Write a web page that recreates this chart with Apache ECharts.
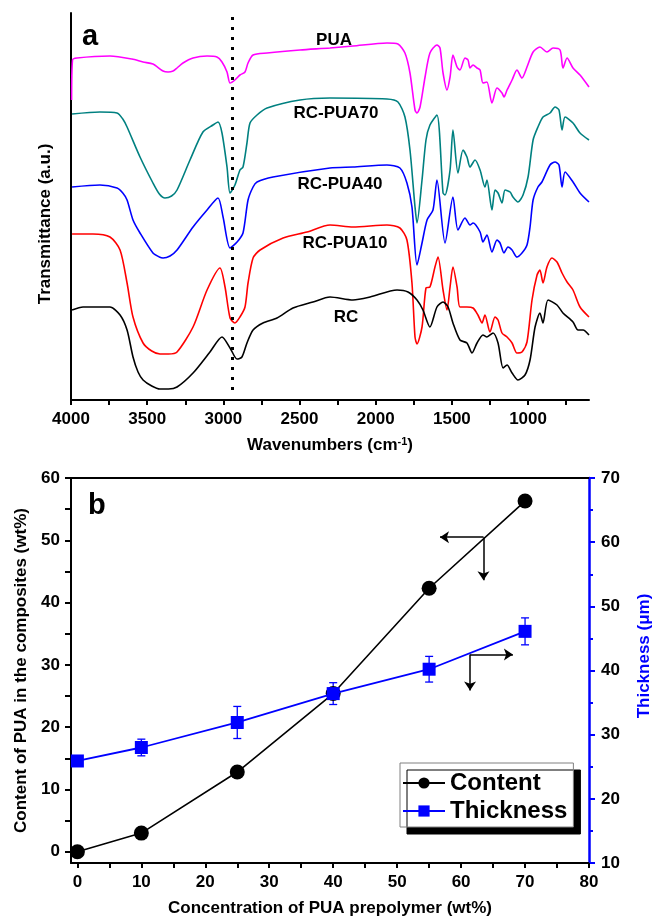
<!DOCTYPE html>
<html>
<head>
<meta charset="utf-8">
<script src="https://cdn.jsdelivr.net/npm/echarts@6/dist/echarts.min.js"></script>
<style>
  html, body { margin: 0; padding: 0; background: #fff; }
  #main { width: 656px; height: 921px; }
</style>
</head>
<body>
<div id="main"></div>
<script>
// (a) FTIR spectra, wavenumber (cm-1) vs transmittance (a.u., offset curves)
var puaWn = [3996, 3990, 3961, 3744, 3600, 3527, 3462, 3396, 3363, 3330, 3304, 3265, 3199, 3107, 3042, 3009, 2976, 2956, 2924, 2891, 2858, 2838, 2805, 2713, 2497, 2300, 2149, 1926, 1854, 1808, 1775, 1742, 1729, 1709, 1676, 1644, 1598, 1578, 1558, 1532, 1512, 1493, 1466, 1447, 1414, 1394, 1381, 1361, 1335, 1315, 1296, 1270, 1237, 1204, 1171, 1158, 1138, 1105, 1073, 1040, 1007, 967, 922, 876, 836, 790, 771, 744, 705, 659, 600];
var puaT = [300, 340, 342, 344, 341, 338, 336, 329, 328, 329, 332, 337, 342, 344, 343, 338, 328, 317, 320, 325, 328, 337, 345, 347, 350, 352, 354, 357, 356, 347, 327, 290, 287, 293, 323, 347, 355, 352, 327, 310, 323, 345, 333, 330, 342, 340, 332, 335, 332, 330, 317, 318, 297, 312, 307, 303, 310, 320, 330, 322, 333, 348, 353, 348, 352, 350, 332, 342, 332, 325, 313];

var pua70Wn = [3993, 3810, 3698, 3660, 3632, 3547, 3462, 3420, 3383, 3340, 3304, 3219, 3134, 3068, 3035, 3009, 2976, 2956, 2924, 2891, 2871, 2845, 2825, 2779, 2713, 2497, 2300, 1926, 1854, 1808, 1775, 1742, 1729, 1696, 1670, 1644, 1598, 1558, 1545, 1512, 1493, 1460, 1427, 1401, 1381, 1348, 1315, 1283, 1270, 1237, 1217, 1197, 1171, 1151, 1118, 1099, 1066, 1033, 1000, 967, 935, 902, 856, 823, 797, 777, 757, 705, 659, 600];
var pua70T = [286, 288, 287, 281, 273, 243, 217, 206, 202, 204, 210, 240, 268, 275, 278, 267, 233, 207, 215, 230, 233, 257, 277, 285, 292, 300, 302, 301, 298, 283, 250, 193, 177, 220, 260, 275, 285, 207, 205, 230, 270, 227, 250, 243, 233, 240, 230, 213, 220, 190, 210, 207, 197, 210, 208, 203, 198, 205, 223, 260, 273, 283, 287, 293, 290, 270, 283, 277, 267, 260];

var pua40Wn = [3993, 3810, 3698, 3660, 3632, 3593, 3547, 3462, 3420, 3396, 3350, 3304, 3199, 3107, 3035, 3002, 2956, 2910, 2871, 2838, 2805, 2779, 2674, 2300, 2149, 1926, 1841, 1795, 1762, 1729, 1696, 1663, 1624, 1598, 1545, 1493, 1460, 1414, 1381, 1361, 1315, 1296, 1270, 1237, 1204, 1184, 1158, 1132, 1105, 1073, 1040, 1007, 987, 967, 935, 909, 856, 823, 797, 777, 757, 705, 659, 600];
var pua40T = [213, 215, 212, 207, 200, 180, 167, 147, 143, 142, 144, 150, 173, 190, 202, 183, 152, 158, 167, 200, 213, 218, 223, 232, 233, 235, 232, 217, 193, 135, 157, 180, 190, 220, 157, 203, 170, 182, 175, 177, 168, 158, 165, 148, 160, 157, 147, 153, 150, 143, 147, 155, 173, 200, 213, 218, 235, 238, 235, 213, 228, 218, 207, 198];

var pua10Wn = [3993, 3856, 3744, 3678, 3632, 3593, 3527, 3470, 3416, 3360, 3304, 3199, 3107, 3022, 2989, 2956, 2924, 2891, 2858, 2838, 2805, 2759, 2608, 2451, 2300, 2149, 1926, 1841, 1795, 1762, 1742, 1729, 1696, 1670, 1644, 1611, 1591, 1558, 1532, 1512, 1493, 1466, 1447, 1401, 1361, 1329, 1302, 1283, 1250, 1217, 1197, 1171, 1138, 1105, 1073, 1040, 1007, 974, 941, 922, 902, 876, 843, 810, 777, 744, 705, 659, 600];
var pua10T = [166, 166, 163, 150, 117, 83, 57, 49, 46, 46, 48, 73, 110, 132, 113, 82, 77, 83, 93, 117, 142, 150, 162, 168, 175, 173, 175, 172, 160, 117, 63, 56, 73, 112, 113, 133, 143, 110, 90, 113, 133, 113, 93, 93, 92, 85, 77, 85, 68, 83, 80, 67, 63, 57, 47, 48, 58, 100, 125, 130, 117, 133, 142, 138, 127, 118, 110, 93, 83];

var rcWn = [3993, 3921, 3744, 3678, 3632, 3593, 3560, 3527, 3470, 3416, 3360, 3304, 3199, 3088, 3009, 2956, 2910, 2878, 2845, 2805, 2740, 2648, 2543, 2412, 2300, 2149, 2037, 1860, 1788, 1729, 1690, 1644, 1598, 1558, 1525, 1493, 1447, 1401, 1368, 1335, 1296, 1270, 1230, 1197, 1164, 1138, 1105, 1066, 1020, 987, 954, 922, 902, 869, 810, 771, 705, 672, 639, 600];
var rcT = [90, 93, 93, 85, 70, 43, 28, 20, 14, 11, 11, 13, 27, 48, 63, 52, 41, 43, 57, 70, 77, 82, 92, 98, 103, 100, 103, 110, 108, 100, 90, 73, 93, 98, 93, 77, 60, 57, 47, 57, 65, 63, 67, 57, 32, 35, 27, 20, 25, 40, 73, 87, 77, 100, 95, 87, 78, 70, 70, 65];

var wnLabels = [1000, 1500, 2000, 2500, 3000, 3500, 4000];
var wnTicks = [750, 1000, 1250, 1500, 1750, 2000, 2250, 2500, 2750, 3000, 3250, 3500, 3750, 4000];
var chBand = 2943;

// (b) PUA content and film thickness vs prepolymer concentration
var concX = [0, 10, 25, 40, 55, 70];
var content = [0, 3.0, 12.8, 25.4, 42.3, 56.3];
var thickness = [25.9, 28.0, 31.9, 36.4, 40.2, 46.1];
var thicknessErr = [0.4, 1.3, 2.5, 1.7, 2.0, 2.1];
var concLabels = [0, 10, 20, 30, 40, 50, 60, 70, 80];
var concTicks = [0, 5, 10, 15, 20, 25, 30, 35, 40, 45, 50, 55, 60, 65, 70, 75, 80];
var contentLabels = [0, 10, 20, 30, 40, 50, 60];
var contentTicks = [0, 5, 10, 15, 20, 25, 30, 35, 40, 45, 50, 55, 60];

var FONT = '"Liberation Sans", Arial, sans-serif';
var tickFont = { fontFamily: FONT, fontWeight: 'bold', fontSize: 17, color: '#000' };

function pairs(xs, ys) {
  return xs.map(function (x, i) { return [x, ys[i]]; });
}

function plain(v) { return String(v); }

function spectrum(name, color, xs, ys) {
  return {
    name: name,
    type: 'line',
    xAxisIndex: 0,
    yAxisIndex: 0,
    data: pairs(xs, ys),
    showSymbol: false,
    symbol: 'none',
    smooth: 0.25,
    lineStyle: { color: color, width: 1.6 },
    silent: true
  };
}

var chart = echarts.init(document.getElementById('main'), null, { renderer: 'canvas' });

var rcSeries = spectrum('RC', '#000000', rcWn, rcT);
rcSeries.markLine = {
  silent: true,
  symbol: 'none',
  label: { show: false },
  lineStyle: { color: '#000', width: 3, type: [3, 7] },
  data: [[{ coord: [chBand, 10] }, { coord: [chBand, 386] }]]
};

var arrowStyle = { color: '#000', width: 1.5, type: 'solid' };

var option = {
  animation: false,
  backgroundColor: '#fff',
  grid: [
    { left: 71, top: 13, width: 518, height: 387 },
    { left: 71, top: 478, width: 518, height: 385 }
  ],
  xAxis: [
    {
      gridIndex: 0,
      type: 'value',
      min: 600,
      max: 4000,
      inverse: true,
      name: 'Wavenumbers (cm{sup|-1})',
      nameLocation: 'middle',
      nameGap: 36,
      nameTextStyle: {
        fontFamily: FONT, fontWeight: 'bold', fontSize: 17, color: '#000',
        rich: { sup: { fontFamily: FONT, fontWeight: 'bold', fontSize: 11, verticalAlign: 'top', padding: [0, 0, 8, 0] } }
      },
      axisLine: { onZero: false, lineStyle: { color: '#000', width: 2 } },
      axisTick: { show: true, inside: false, length: 5, lineStyle: { width: 2 }, customValues: wnTicks },
      axisLabel: Object.assign({ margin: 11, customValues: wnLabels, formatter: plain }, tickFont),
      splitLine: { show: false }
    },
    {
      gridIndex: 1,
      type: 'value',
      min: -1,
      max: 80,
      name: 'Concentration of PUA prepolymer (wt%)',
      nameLocation: 'middle',
      nameGap: 37,
      nameTextStyle: { fontFamily: FONT, fontWeight: 'bold', fontSize: 17, color: '#000' },
      axisLine: { onZero: false, lineStyle: { color: '#000', width: 2 } },
      axisTick: { show: true, inside: false, length: 5, lineStyle: { width: 2 }, customValues: concTicks },
      axisLabel: Object.assign({ margin: 11, customValues: concLabels, formatter: plain }, tickFont),
      splitLine: { show: false }
    },
    {
      gridIndex: 1,
      type: 'value',
      position: 'top',
      min: -1,
      max: 80,
      axisLine: { onZero: false, lineStyle: { color: '#000', width: 2 } },
      axisTick: { show: false },
      axisLabel: { show: false },
      splitLine: { show: false }
    }
  ],
  yAxis: [
    {
      gridIndex: 0,
      type: 'value',
      min: 0,
      max: 387,
      axisLine: { show: true, onZero: false, lineStyle: { color: '#000', width: 2 } },
      axisTick: { show: false },
      axisLabel: { show: false },
      splitLine: { show: false }
    },
    {
      gridIndex: 1,
      type: 'value',
      min: -1.8,
      max: 60,
      name: 'Content of PUA in the composites (wt%)',
      nameLocation: 'middle',
      nameGap: 37,
      nameTextStyle: { fontFamily: FONT, fontWeight: 'bold', fontSize: 17, color: '#000' },
      axisLine: { show: true, onZero: false, lineStyle: { color: '#000', width: 2 } },
      axisTick: { show: true, inside: false, length: 6, lineStyle: { width: 2 }, customValues: contentTicks },
      axisLabel: Object.assign({ margin: 11, customValues: contentLabels, formatter: plain }, tickFont),
      splitLine: { show: false }
    },
    {
      gridIndex: 1,
      type: 'value',
      position: 'right',
      min: 10,
      max: 70,
      interval: 10,
      axisLine: { show: true, onZero: false, lineStyle: { color: '#0000ff', width: 2.5 } },
      axisTick: { show: true, inside: false, length: 6, lineStyle: { width: 2, color: '#0000ff' } },
      minorTick: { show: true, splitNumber: 2, length: 4, lineStyle: { width: 2, color: '#0000ff' } },
      axisLabel: Object.assign({ margin: 12 }, tickFont),
      splitLine: { show: false }
    }
  ],
  legend: {
    orient: 'vertical',
    left: 400,
    top: 763,
    padding: [8, 6, 4, 2],
    itemGap: 4,
    itemWidth: 42,
    itemHeight: 14,
    backgroundColor: '#fff',
    borderColor: '#808080',
    borderWidth: 1,
    shadowColor: '#000',
    shadowBlur: 0,
    shadowOffsetX: 7,
    shadowOffsetY: 7,
    textStyle: { fontFamily: FONT, fontWeight: 'bold', fontSize: 24, color: '#000' },
    data: ['Content', 'Thickness']
  },
  series: [
    spectrum('PUA', '#ff00ff', puaWn, puaT),
    spectrum('RC-PUA70', '#008080', pua70Wn, pua70T),
    spectrum('RC-PUA40', '#0000ff', pua40Wn, pua40T),
    spectrum('RC-PUA10', '#ff0000', pua10Wn, pua10T),
    rcSeries,
    {
      name: 'Content',
      type: 'line',
      xAxisIndex: 1,
      yAxisIndex: 1,
      data: pairs(concX, content),
      symbol: 'circle',
      symbolSize: 15,
      itemStyle: { color: '#000' },
      lineStyle: { color: '#000', width: 1.6 },
      z: 3,
      markLine: {
        silent: true,
        symbol: ['none', 'arrow'],
        symbolSize: 9,
        label: { show: false },
        lineStyle: arrowStyle,
        data: [
          [{ coord: [63.5, 50.5] }, { coord: [56.7, 50.5] }],
          [{ coord: [63.5, 50.5] }, { coord: [63.5, 43.6] }]
        ]
      }
    },
    {
      name: 'Thickness',
      type: 'line',
      xAxisIndex: 1,
      yAxisIndex: 2,
      data: pairs(concX, thickness),
      symbol: 'rect',
      symbolSize: 13,
      itemStyle: { color: '#0000ff' },
      lineStyle: { color: '#0000ff', width: 1.8 },
      z: 4,
      markLine: {
        silent: true,
        symbol: ['none', 'arrow'],
        symbolSize: 9,
        label: { show: false },
        lineStyle: arrowStyle,
        data: [
          [{ coord: [61.4, 42.5] }, { coord: [68.1, 42.5] }],
          [{ coord: [61.4, 42.5] }, { coord: [61.4, 36.9] }]
        ]
      }
    },
    {
      name: 'Thickness error',
      type: 'custom',
      xAxisIndex: 1,
      yAxisIndex: 2,
      z: 3,
      silent: true,
      data: concX.map(function (x, i) { return [x, thickness[i] - thicknessErr[i], thickness[i] + thicknessErr[i]]; }),
      renderItem: function (params, api) {
        var lo = api.coord([api.value(0), api.value(1)]);
        var hi = api.coord([api.value(0), api.value(2)]);
        var w = 4;
        var st = { stroke: '#0000ff', lineWidth: 1.3 };
        return {
          type: 'group',
          children: [
            { type: 'line', shape: { x1: lo[0], y1: lo[1], x2: hi[0], y2: hi[1] }, style: st },
            { type: 'line', shape: { x1: lo[0] - w, y1: lo[1], x2: lo[0] + w, y2: lo[1] }, style: st },
            { type: 'line', shape: { x1: hi[0] - w, y1: hi[1], x2: hi[0] + w, y2: hi[1] }, style: st }
          ]
        };
      }
    }
  ],
  graphic: [
    { type: 'text', x: 82, y: 22, style: { text: 'a', font: 'bold 29px ' + FONT, fill: '#000' } },
    { type: 'text', x: 88, y: 491, style: { text: 'b', font: 'bold 29px ' + FONT, fill: '#000' } },
    { type: 'text', x: 334, y: 40, style: { text: 'PUA', font: 'bold 17px ' + FONT, fill: '#000', align: 'center', verticalAlign: 'middle' } },
    { type: 'text', x: 336, y: 113, style: { text: 'RC-PUA70', font: 'bold 17px ' + FONT, fill: '#000', align: 'center', verticalAlign: 'middle' } },
    { type: 'text', x: 340, y: 184, style: { text: 'RC-PUA40', font: 'bold 17px ' + FONT, fill: '#000', align: 'center', verticalAlign: 'middle' } },
    { type: 'text', x: 345, y: 243, style: { text: 'RC-PUA10', font: 'bold 17px ' + FONT, fill: '#000', align: 'center', verticalAlign: 'middle' } },
    { type: 'text', x: 346, y: 317, style: { text: 'RC', font: 'bold 17px ' + FONT, fill: '#000', align: 'center', verticalAlign: 'middle' } },
    { type: 'text', x: 45, y: 224, rotation: Math.PI / 2, style: { text: 'Transmittance (a.u.)', font: 'bold 17px ' + FONT, fill: '#000', align: 'center', verticalAlign: 'middle' } },
    { type: 'text', x: 644, y: 656, rotation: Math.PI / 2, style: { text: 'Thickness (\u03bcm)', font: 'bold 17px ' + FONT, fill: '#0000ff', align: 'center', verticalAlign: 'middle' } }
  ]
};

chart.setOption(option);
</script>
</body>
</html>
